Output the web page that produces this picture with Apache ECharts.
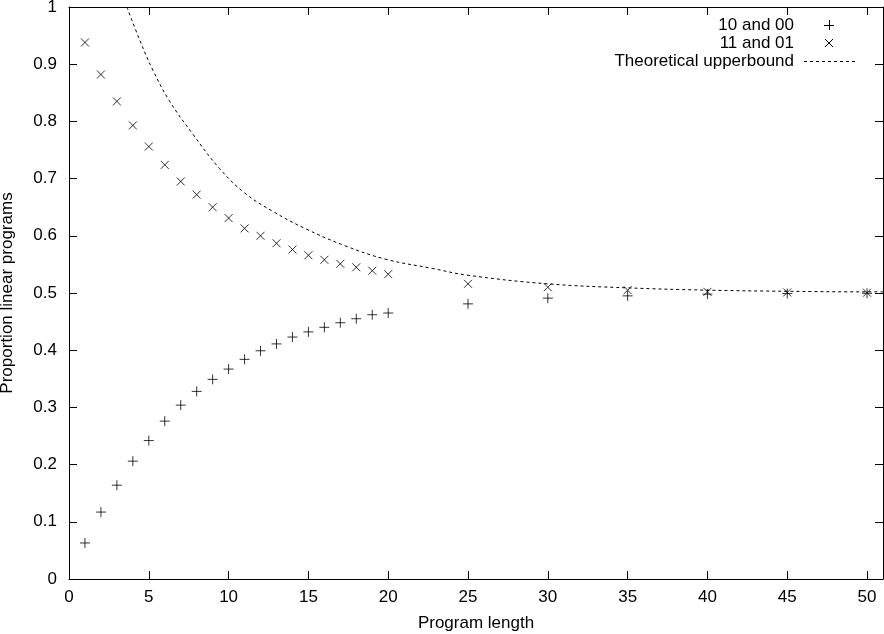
<!DOCTYPE html>
<html>
<head>
<meta charset="utf-8">
<script src="https://cdn.jsdelivr.net/npm/echarts@6/dist/echarts.min.js"></script>
<style>
  html, body { margin: 0; padding: 0; background: #fff; }
  #chart { width: 884px; height: 634px; }
</style>
</head>
<body>
<div id="chart"></div>
<script>
// program lengths that were sampled
var lengths = [1, 2, 3, 4, 5, 6, 7, 8, 9, 10, 11, 12, 13, 14, 15, 16, 17, 18, 19, 20, 25, 30, 35, 40, 45, 50];
// proportion linear, "10 and 00"
var linear1000 = [0.063, 0.117, 0.164, 0.206, 0.242, 0.276, 0.304, 0.328, 0.349, 0.367, 0.384, 0.399, 0.411,
                  0.423, 0.432, 0.440, 0.448, 0.455, 0.462, 0.465, 0.481, 0.491, 0.495, 0.498, 0.499, 0.4995];
// proportion linear, "11 and 01"
var linear1101 = [0.938, 0.882, 0.835, 0.793, 0.756, 0.724, 0.695, 0.672, 0.650, 0.631, 0.613, 0.600, 0.587,
                  0.576, 0.566, 0.558, 0.551, 0.545, 0.539, 0.533, 0.516, 0.510, 0.505, 0.502, 0.501, 0.5005];
// theoretical upperbound
var boundX = [3.63, 4.42, 5.25, 6.29, 7.75, 9.42, 11.0, 12.75, 14.85, 17.35, 19.85, 22.75, 25, 30, 35, 40, 45, 50, 51];
var boundY = [1.0, 0.943, 0.890, 0.836, 0.778, 0.718, 0.675, 0.643, 0.612, 0.582, 0.559, 0.543, 0.531,
              0.516, 0.509, 0.505, 0.503, 0.502, 0.502];

function pairs(xs, ys) {
  return xs.map(function (x, i) { return [x, ys[i]]; });
}

var chart = echarts.init(document.getElementById('chart'));
var font = '"Liberation Sans", Arial, sans-serif';
var fontSize = 17;
var black = '#000';

var frameAxis = {
  axisLine: { show: true, onZero: false, lineStyle: { color: black, width: 1 } },
  axisTick: { show: true, inside: true, length: 8, lineStyle: { color: black, width: 1 } },
  splitLine: { show: false }
};

var option = {
  animation: false,
  backgroundColor: '#fff',
  textStyle: { fontFamily: font, color: black },
  grid: { left: 69, right: 1, top: 7, bottom: 55, containLabel: false, outerBoundsMode: 'none' },
  xAxis: [
    Object.assign({
      type: 'value', min: 0, max: 51, interval: 5, position: 'bottom',
      name: 'Program length', nameLocation: 'middle', nameGap: 36,
      nameTextStyle: { fontFamily: font, fontSize: fontSize, color: black },
      axisLabel: { margin: 10, fontFamily: font, fontSize: fontSize, color: black, showMaxLabel: false }
    }, frameAxis),
    Object.assign({
      type: 'value', min: 0, max: 51, interval: 5, position: 'top',
      axisLabel: { show: false }
    }, frameAxis)
  ],
  yAxis: [
    Object.assign({
      type: 'value', min: 0, max: 1, interval: 0.1, position: 'left',
      name: 'Proportion linear programs', nameLocation: 'middle', nameGap: 53, nameRotate: 90,
      nameTextStyle: { fontFamily: font, fontSize: fontSize, color: black },
      axisLabel: { margin: 12, fontFamily: font, fontSize: fontSize, color: black }
    }, frameAxis),
    Object.assign({
      type: 'value', min: 0, max: 1, interval: 0.1, position: 'right',
      axisLabel: { show: false }
    }, frameAxis)
  ],
  series: [
    {
      name: '10 and 00',
      type: 'scatter',
      data: pairs(lengths, linear1000),
      symbol: 'path://M0,5L10,5M5,0L5,10',
      symbolSize: 10,
      itemStyle: { color: 'rgba(0,0,0,0)', borderColor: black, borderWidth: 1 }
    },
    {
      name: '11 and 01',
      type: 'scatter',
      data: pairs(lengths, linear1101),
      symbol: 'path://M0,0L8,8M0,8L8,0',
      symbolSize: 8,
      itemStyle: { color: 'rgba(0,0,0,0)', borderColor: black, borderWidth: 1 }
    },
    {
      name: 'Theoretical upperbound',
      type: 'line',
      data: pairs(boundX, boundY),
      smooth: 0.4,
      showSymbol: false,
      lineStyle: { color: black, width: 1, type: [3, 3] }
    }
  ],
  // gnuplot style key: text right aligned, sample on its right
  graphic: [
    { type: 'text', x: 794, y: 25, style: { text: '10 and 00', font: fontSize + 'px ' + font, fill: black, align: 'right', verticalAlign: 'middle' } },
    { type: 'text', x: 794, y: 43, style: { text: '11 and 01', font: fontSize + 'px ' + font, fill: black, align: 'right', verticalAlign: 'middle' } },
    { type: 'text', x: 794, y: 61, style: { text: 'Theoretical upperbound', font: fontSize + 'px ' + font, fill: black, align: 'right', verticalAlign: 'middle' } },
    { type: 'line', shape: { x1: 824, y1: 25.5, x2: 834, y2: 25.5 }, style: { stroke: black, lineWidth: 1 } },
    { type: 'line', shape: { x1: 829.5, y1: 20, x2: 829.5, y2: 30 }, style: { stroke: black, lineWidth: 1 } },
    { type: 'line', shape: { x1: 825, y1: 39, x2: 833, y2: 47 }, style: { stroke: black, lineWidth: 1 } },
    { type: 'line', shape: { x1: 825, y1: 47, x2: 833, y2: 39 }, style: { stroke: black, lineWidth: 1 } },
    { type: 'line', shape: { x1: 804, y1: 61.5, x2: 858, y2: 61.5 }, style: { stroke: black, lineWidth: 1, lineDash: [3, 3] } }
  ]
};

chart.setOption(option);
</script>
</body>
</html>
